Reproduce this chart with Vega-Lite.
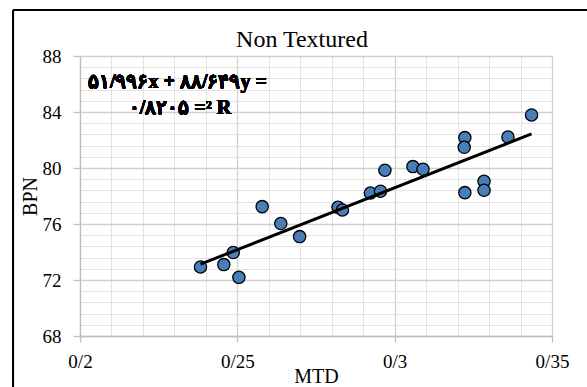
{
  "$schema": "https://vega.github.io/schema/vega-lite/v6.json",
  "autosize": {"type": "none"},
  "padding": {"left": 80, "top": 56, "right": 35, "bottom": 51},
  "width": 472,
  "height": 280,
  "background": "white",
  "config": {"view": {"stroke": null}},
  "title": {"text": "Non Textured", "font": "Liberation Serif", "fontSize": 24, "fontWeight": "normal", "color": "black", "frame": "group", "anchor": "middle", "dx": -14, "baseline": "alphabetic", "offset": -62},
  "data": {"values": [
    {"MTD": 0.2383, "BPN": 72.93},
    {"MTD": 0.2457, "BPN": 73.10},
    {"MTD": 0.2487, "BPN": 73.96},
    {"MTD": 0.2505, "BPN": 72.19},
    {"MTD": 0.2579, "BPN": 77.24},
    {"MTD": 0.2638, "BPN": 76.03},
    {"MTD": 0.2698, "BPN": 75.10},
    {"MTD": 0.2820, "BPN": 77.19},
    {"MTD": 0.2834, "BPN": 77.00},
    {"MTD": 0.2923, "BPN": 78.21},
    {"MTD": 0.2955, "BPN": 78.34},
    {"MTD": 0.2969, "BPN": 79.84},
    {"MTD": 0.3058, "BPN": 80.10},
    {"MTD": 0.3090, "BPN": 79.91},
    {"MTD": 0.3223, "BPN": 82.17},
    {"MTD": 0.3221, "BPN": 81.48},
    {"MTD": 0.3223, "BPN": 78.24},
    {"MTD": 0.3284, "BPN": 79.05},
    {"MTD": 0.3284, "BPN": 78.41},
    {"MTD": 0.3360, "BPN": 82.21},
    {"MTD": 0.3435, "BPN": 83.79}
  ]},
  "resolve": {"axis": {"x": "independent", "y": "independent"}},
  "layer": [
    {
      "mark": {"type": "point", "filled": true, "shape": "circle", "size": 150, "fill": "#4a7ebb", "stroke": "black", "strokeWidth": 1.3, "opacity": 1},
      "encoding": {
        "x": {"field": "MTD", "type": "quantitative", "scale": {"domain": [0.2, 0.35], "nice": false, "zero": false},
          "axis": {"orient": "bottom", "values": [0.2,0.21,0.22,0.23,0.24,0.25,0.26,0.27,0.28,0.29,0.3,0.31,0.32,0.33,0.34,0.35], "grid": true, "gridColor": "#e3e3e3", "gridWidth": 1, "labels": false, "ticks": false, "domain": false, "title": null}},
        "y": {"field": "BPN", "type": "quantitative", "scale": {"domain": [68, 88], "nice": false, "zero": false},
          "axis": {"orient": "left", "values": [68,68.8,69.6,70.4,71.2,72,72.8,73.6,74.4,75.2,76,76.8,77.6,78.4,79.2,80,80.8,81.6,82.4,83.2,84,84.8,85.6,86.4,87.2,88], "grid": true, "gridColor": "#e3e3e3", "gridWidth": 1, "labels": false, "ticks": false, "domain": false, "title": null}}
      }
    },
    {
      "transform": [{"regression": "BPN", "on": "MTD"}],
      "mark": {"type": "line", "color": "black", "strokeWidth": 3},
      "encoding": {
        "x": {"field": "MTD", "type": "quantitative",
          "axis": {"orient": "bottom", "values": [0.2, 0.25, 0.3, 0.35], "labelExpr": "replace(format(datum.value, '.2~f'), '.', '/')", "grid": true, "gridColor": "#d0d0d0", "gridWidth": 1.3, "domainColor": "#bfbfbf", "domainWidth": 1.3, "tickColor": "#bfbfbf", "tickWidth": 1.3, "tickSize": 6, "labelPadding": 10, "labelFont": "Liberation Serif", "labelFontSize": 19, "labelColor": "black", "labelOverlap": false, "labelFlush": false, "title": "MTD", "titleFont": "Liberation Serif", "titleFontSize": 20, "titleFontWeight": "normal", "titleColor": "black", "titlePadding": -5}},
        "y": {"field": "BPN", "type": "quantitative",
          "axis": {"orient": "left", "values": [68, 72, 76, 80, 84, 88], "grid": true, "gridColor": "#d0d0d0", "gridWidth": 1.3, "domainColor": "#bfbfbf", "domainWidth": 1.3, "tickColor": "#bfbfbf", "tickWidth": 1.3, "tickSize": 7, "labelPadding": 12, "labelFont": "Liberation Serif", "labelFontSize": 19, "labelColor": "black", "labelOverlap": false, "labelFlush": false, "title": "BPN", "titleFont": "Liberation Serif", "titleFontSize": 20, "titleFontWeight": "normal", "titleColor": "black", "titlePadding": 2}}
      }
    },
    {
      "mark": {"type": "text", "text": "۵۱/۹۹۶x + ۸۸/۶۴۹y =", "font": "Liberation Serif", "fontSize": 20, "fontWeight": "bold", "color": "black", "align": "center", "baseline": "alphabetic"},
      "encoding": {
        "x": {"datum": 0.23095, "type": "quantitative", "axis": null},
        "y": {"datum": 85.71, "type": "quantitative", "axis": null}
      }
    },
    {
      "mark": {"type": "text", "text": "۰/۸۲۰۵ =² R", "font": "Liberation Serif", "fontSize": 20, "fontWeight": "bold", "color": "black", "align": "center", "baseline": "alphabetic"},
      "encoding": {
        "x": {"datum": 0.23175, "type": "quantitative", "axis": null},
        "y": {"datum": 83.886, "type": "quantitative", "axis": null}
      }
    },
    {
      "mark": {"type": "rule", "color": "black", "strokeWidth": 2, "clip": false},
      "encoding": {
        "x": {"datum": 0.17871, "type": "quantitative", "axis": null},
        "x2": {"datum": 0.3615},
        "y": {"datum": 91.29, "type": "quantitative", "axis": null}
      }
    },
    {
      "mark": {"type": "rule", "color": "black", "strokeWidth": 2, "clip": false},
      "encoding": {
        "x": {"datum": 0.17871, "type": "quantitative", "axis": null},
        "y": {"datum": 91.29, "type": "quantitative", "axis": null},
        "y2": {"datum": 64.3}
      }
    }
  ]
}
